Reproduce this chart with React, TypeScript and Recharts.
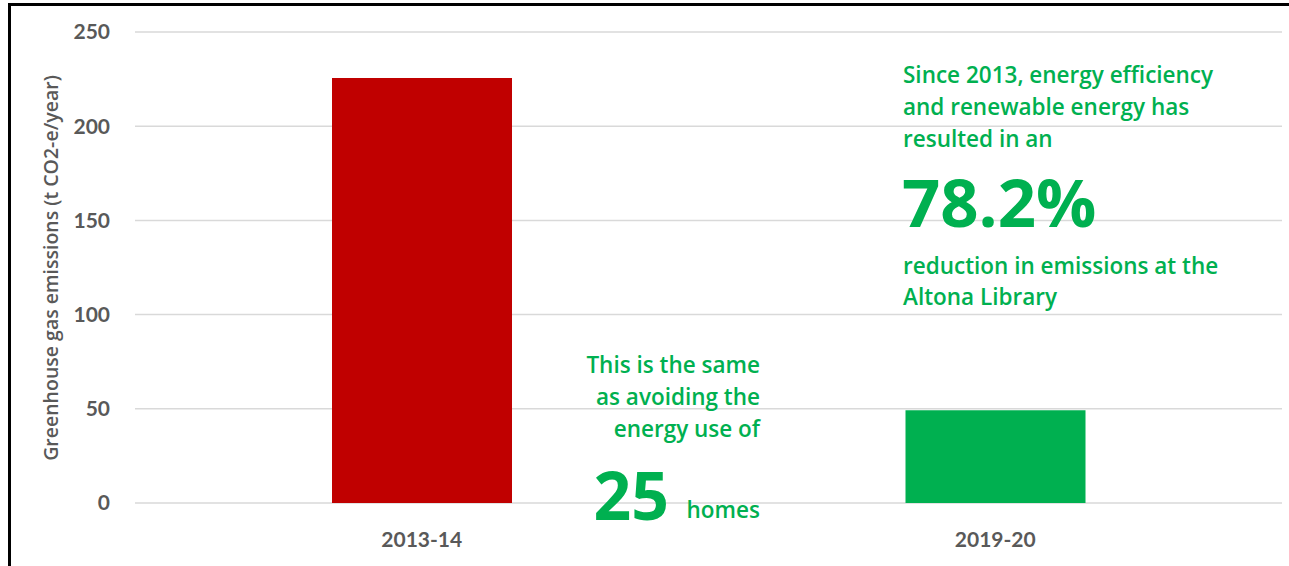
import { BarChart, Bar, XAxis, YAxis, CartesianGrid, Cell } from "recharts";

const periods = ["2013-14", "2019-20"];
const emissions = [225.6, 49.2];
const barColors = ["#C00000", "#00B050"];
const yTicks = [0, 50, 100, 150, 200, 250];

const data = periods.map((period, i) => ({ period, value: emissions[i] }));

const GREEN = "#00B050";
const GREY = "#595959";
const TICK_FONT = "Lato, 'Open Sans', sans-serif";
const NOTE_FONT = "'Open Sans', Lato, sans-serif";

export default function App() {
  return (
    <div
      style={{
        position: "absolute",
        left: 0,
        top: 0,
        width: 1289,
        height: 566,
        background: "#fff",
        overflow: "hidden",
        fontFamily: TICK_FONT,
      }}
    >
      <div
        style={{
          position: "absolute",
          left: 8,
          top: 3,
          width: 1300,
          height: 561,
          borderLeft: "3px solid #000",
          borderTop: "3px solid #000",
          borderBottom: "1px solid #e6e6e6",
        }}
      />
      <div style={{ position: "absolute", left: 0, top: 0 }}>
        <BarChart
          width={1289}
          height={566}
          data={data}
          margin={{ top: 32, right: 7, bottom: 0, left: 0 }}
        >
          <CartesianGrid vertical={false} stroke="#D9D9D9" strokeWidth={1.5} />
          <XAxis
            dataKey="period"
            height={63}
            axisLine={false}
            tickLine={false}
            tickSize={0}
            tickMargin={29}
            tick={{ fontSize: 21, fill: GREY, fontFamily: TICK_FONT, fontWeight: 700 }}
          />
          <YAxis
            width={135}
            domain={[0, 250]}
            ticks={yTicks}
            axisLine={false}
            tickLine={false}
            tickSize={0}
            tickMargin={25}
            tick={{ fontSize: 21, fill: GREY, fontFamily: TICK_FONT, fontWeight: 700 }}
          />
          <Bar dataKey="value" barSize={180} isAnimationActive={false}>
            {data.map((d, i) => (
              <Cell key={d.period} fill={barColors[i]} />
            ))}
          </Bar>
        </BarChart>
      </div>
      <svg
        width={1289}
        height={566}
        style={{ position: "absolute", left: 0, top: 0, pointerEvents: "none" }}
        fontFamily={NOTE_FONT}
        fontWeight={600}
      >
        <text
          transform="translate(58 268) rotate(-90)"
          textAnchor="middle"
          fontSize={19.5}
          fill={GREY}
        >
          Greenhouse gas emissions (t CO2-e/year)
        </text>

        <g fill={GREEN} fontSize={22.5}>
          <text x={903} y={83}>Since 2013, energy efficiency</text>
          <text x={903} y={115}>and renewable energy has</text>
          <text x={903} y={147}>resulted in an</text>
          <text x={902} y={227} fontSize={67} fontWeight={700}>78.2%</text>
          <text x={903} y={274}>reduction in emissions at the</text>
          <text x={903} y={305}>Altona Library</text>
        </g>

        <g fill={GREEN} fontSize={22.5} textAnchor="end">
          <text x={760} y={373}>This is the same</text>
          <text x={760} y={405}>as avoiding the</text>
          <text x={760} y={437}>energy use of</text>
          <text x={760} y={518}>homes</text>
          <text x={669} y={520} fontSize={66} fontWeight={700}>25</text>
        </g>
      </svg>
    </div>
  );
}
